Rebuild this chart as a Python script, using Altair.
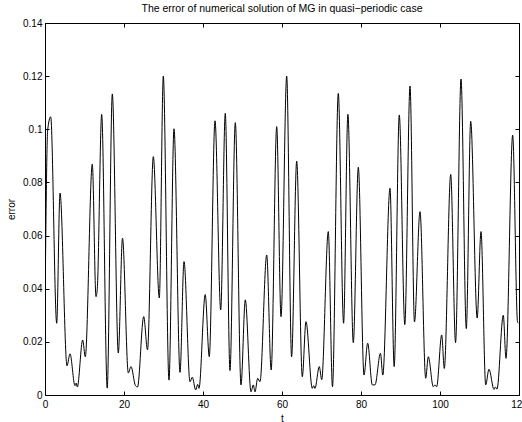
import altair as alt
import pandas as pd

t = [0.0, 0.68, 1.44, 2.96, 3.80, 5.57, 6.33, 7.59, 7.90, 8.18,
     9.54, 10.20, 11.97, 12.91, 13.24, 14.35, 15.75, 17.04, 18.56, 19.62,
     21.09, 21.77, 22.91, 23.42, 24.99, 25.95, 27.42, 28.94, 29.95, 31.39,
     32.66, 34.18, 35.19, 36.71, 37.29, 38.15, 38.66, 38.99, 40.56, 41.59,
     43.04, 44.48, 45.64, 46.83, 48.18, 49.62, 50.71, 52.15, 52.73, 53.16,
     53.85, 54.43, 56.13, 57.26, 58.66, 59.75, 61.19, 62.43, 63.72, 65.14,
     66.07, 67.67, 68.02, 68.35, 69.44, 70.05, 71.72, 72.78, 74.25, 75.59,
     76.68, 78.05, 79.32, 80.76, 81.69, 82.86, 83.54, 84.93, 85.52, 87.34,
     88.40, 89.69, 91.09, 92.41, 93.54, 94.94, 96.38, 97.04, 98.30, 98.73,
     99.16, 100.43, 101.09, 102.71, 103.94, 105.32, 106.66, 107.77, 109.41, 110.38,
     111.57, 112.40, 113.67, 114.05, 114.43, 116.02, 116.71, 118.40, 119.62, 119.8]

err = [0.032, 0.0997, 0.1047, 0.027, 0.076, 0.011, 0.0155, 0.0035, 0.0045, 0.003,
       0.0207, 0.0144, 0.0869, 0.037, 0.040, 0.1056, 0.0026, 0.1133, 0.0158, 0.059,
       0.0083, 0.0107, 0.0035, 0.003, 0.0295, 0.017, 0.0897, 0.0365, 0.120, 0.0056,
       0.1002, 0.0085, 0.0502, 0.005, 0.0067, 0.0019, 0.004, 0.0025, 0.0378, 0.0144,
       0.1032, 0.032, 0.106, 0.0092, 0.1025, 0.0038, 0.0358, 0.0012, 0.0038, 0.0012,
       0.0063, 0.005, 0.0527, 0.0094, 0.101, 0.0295, 0.120, 0.0144, 0.088, 0.0069,
       0.0276, 0.0025, 0.0035, 0.0025, 0.0107, 0.0058, 0.0615, 0.0031, 0.1135, 0.027,
       0.1056, 0.0197, 0.0857, 0.0075, 0.0195, 0.0038, 0.0038, 0.0157, 0.0075, 0.0778,
       0.0107, 0.1054, 0.0265, 0.1163, 0.0275, 0.069, 0.0063, 0.0144, 0.0031, 0.0038,
       0.0031, 0.0226, 0.010, 0.083, 0.0197, 0.1189, 0.025, 0.103, 0.029, 0.0615,
       0.0038, 0.0097, 0.0021, 0.003, 0.0022, 0.030, 0.0138, 0.0978, 0.0276, 0.027]

x_ticks = [0, 20, 40, 60, 80, 100, 120]
y_ticks = [0, 0.02, 0.04, 0.06, 0.08, 0.1, 0.12, 0.14]

title_text = "The error of numerical solution of MG in quasi\u2212periodic case"

df = pd.DataFrame({"t": t, "error": err})

W, H = 474, 372
FONT = "Liberation Sans"

xs = alt.Scale(domain=[0, 120], nice=False, zero=False)
ys = alt.Scale(domain=[0, 0.14], nice=False)

base = alt.Chart(df)

main = base.mark_line(color="black", strokeWidth=1, interpolate="monotone", clip=True).encode(
    x=alt.X("t:Q", scale=xs, axis=alt.Axis(
        orient="bottom", values=x_ticks, ticks=False, title="t", labelPadding=4,
        titlePadding=4, domainColor="black", labelColor="black", titleColor="black",
        labelFontSize=10, titleFontSize=10, titleFontWeight="normal",
        labelFont=FONT, titleFont=FONT, grid=False, format="d",
        labelFlush=False, labelOverlap=False)),
    y=alt.Y("error:Q", scale=ys, axis=alt.Axis(
        orient="left", values=y_ticks, ticks=False, title="error", labelPadding=3,
        titlePadding=6, domainColor="black", labelColor="black", titleColor="black",
        labelFontSize=10, titleFontSize=10, titleFontWeight="normal",
        labelFont=FONT, titleFont=FONT, grid=False, format="~g",
        labelFlush=False, labelOverlap=False)),
)

ticks_a = base.mark_line(opacity=0).encode(
    x=alt.X("t:Q", scale=xs, axis=alt.Axis(
        orient="top", offset=-H, values=x_ticks, labels=False, title="",
        domain=False, tickSize=4, tickColor="black", grid=False)),
    y=alt.Y("error:Q", scale=ys, axis=alt.Axis(
        orient="right", offset=-W, values=y_ticks, labels=False, title="",
        domain=False, tickSize=4, tickColor="black", grid=False)),
)

ticks_b = base.mark_line(opacity=0).encode(
    x=alt.X("t:Q", scale=xs, axis=alt.Axis(
        orient="bottom", offset=-H, values=x_ticks, labels=False, title="",
        domain=False, tickSize=4, tickColor="black", grid=False)),
    y=alt.Y("error:Q", scale=ys, axis=alt.Axis(
        orient="left", offset=-W, values=y_ticks, labels=False, title="",
        domain=False, tickSize=4, tickColor="black", grid=False)),
)

chart = alt.layer(main, ticks_a, ticks_b).resolve_axis(
    x="independent", y="independent"
).properties(
    width=W, height=H,
    title=alt.TitleParams(title_text, fontSize=10.5, fontWeight="normal", font=FONT,
                          color="black", anchor="middle", offset=4),
    autosize=alt.AutoSizeParams(type="none"),
    padding={"left": 45, "top": 23, "right": 3, "bottom": 27},
    background="white",
).configure_view(stroke="black", strokeWidth=1)

chart.save("out.html", embed_options={"renderer": "svg", "actions": False})
